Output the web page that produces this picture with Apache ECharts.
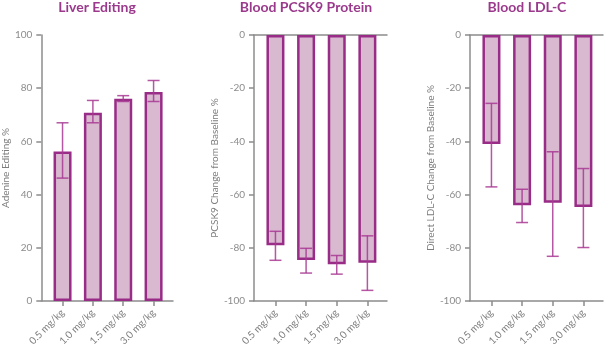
<!DOCTYPE html>
<html>
<head>
<meta charset="utf-8">
<script src="https://cdn.jsdelivr.net/npm/echarts@6/dist/echarts.min.js"></script>
<style>
  html, body { margin: 0; padding: 0; background: #fff; }
  #chart { width: 605px; height: 350px; }
</style>
</head>
<body>
<div id="chart"></div>
<script>
// dose groups
const doses = ['0.5 mg/kg', '1.0 mg/kg', '1.5 mg/kg', '3.0 mg/kg']
const titles = ['Liver Editing', 'Blood PCSK9 Protein', 'Blood LDL-C']
const yNames = ['Adenine Editing %', 'PCSK9 Change from Baseline %', 'Direct LDL-C Change from Baseline %']

// mean values
const liverEditing = [56.2, 70.8, 76.0, 78.6]
const pcsk9Change = [-79.0, -84.6, -86.2, -85.6]
const ldlChange = [-41.0, -64.0, -63.1, -64.7]

// error bar ends [low, high]
const liverErr = [[46.2, 67.0], [67.0, 75.4], [75.0, 77.2], [75.0, 82.9]]
const pcsk9Err = [[-84.7, -73.8], [-89.5, -80.2], [-89.9, -82.9], [-96.0, -75.5]]
const ldlErr = [[-57.1, -25.7], [-70.5, -58.0], [-83.2, -43.9], [-79.9, -50.2]]

const BAR_FILL = '#d8b9d0'
const BAR_EDGE = '#992c87'
const ERR_COLOR = '#a83a93'
const AXIS_GRAY = '#8c8c8c'
const TITLE_COLOR = '#9b3a8c'
const FONT = 'Lato'

const grids = [
  { left: 40, top: 35, width: 133, height: 266 },
  { left: 254, top: 35, width: 133, height: 266 },
  { left: 470, top: 35, width: 133, height: 266 },
]
const yRanges = [[0, 100], [-100, 0], [-100, 0]]
const means = [liverEditing, pcsk9Change, ldlChange]
const errs = [liverErr, pcsk9Err, ldlErr]

let myChart = echarts.init(document.getElementById('chart'))

const xAxes = []
grids.forEach((g, i) => {
  xAxes.push({
    type: 'value',
    gridIndex: i,
    position: 'bottom',
    min: -0.7,
    max: 3.64,
    splitLine: { show: false },
    axisLine: { show: true, onZero: false, lineStyle: { color: AXIS_GRAY, width: 1.5 } },
    axisTick: { show: true, length: 5, customValues: [0, 1, 2, 3], lineStyle: { color: AXIS_GRAY, width: 1.5 } },
    axisLabel: {
      customValues: [0, 1, 2, 3],
      formatter: (v) => doses[Math.round(v)],
      rotate: 45,
      margin: 10,
      color: '#7d7d7d',
      fontSize: 10,
      fontFamily: FONT,
    },
  })
})
// zero line along the top of the two change panels
;[1, 2].forEach((i) => {
  xAxes.push({
    type: 'value',
    gridIndex: i,
    position: 'top',
    min: -0.7,
    max: 3.64,
    splitLine: { show: false },
    axisLine: { show: true, onZero: false, lineStyle: { color: AXIS_GRAY, width: 1.5 } },
    axisTick: { show: false },
    axisLabel: { show: false },
  })
})

const yAxes = grids.map((g, i) => ({
  type: 'value',
  gridIndex: i,
  min: yRanges[i][0],
  max: yRanges[i][1],
  interval: 20,
  name: yNames[i],
  nameLocation: 'middle',
  nameGap: i === 0 ? 29 : 25,
  nameTextStyle: { color: '#7d7d7d', fontSize: 10, fontFamily: FONT },
  splitLine: { show: false },
  axisLine: { show: true, onZero: false, lineStyle: { color: AXIS_GRAY, width: 1.5 } },
  axisTick: { show: true, length: 5, lineStyle: { color: AXIS_GRAY, width: 1.5 } },
  axisLabel: { margin: 9, color: '#8c8c8c', fontSize: 10, fontFamily: FONT },
}))

const series = []
means.forEach((vals, i) => {
  series.push({
    type: 'bar',
    xAxisIndex: i,
    yAxisIndex: i,
    barWidth: 18,
    itemStyle: { color: BAR_FILL, borderColor: BAR_EDGE, borderWidth: 2.5 },
    data: vals.map((v, k) => [k, v]),
    z: 2,
  })
  series.push({
    type: 'custom',
    xAxisIndex: i,
    yAxisIndex: i,
    z: 3,
    data: errs[i].map((e, k) => [k, e[0], e[1]]),
    renderItem: function (params, api) {
      const lo = api.coord([api.value(0), api.value(1)])
      const hi = api.coord([api.value(0), api.value(2)])
      const half = 6
      const style = { stroke: ERR_COLOR, lineWidth: 1.5, opacity: 0.85 }
      return {
        type: 'group',
        children: [
          { type: 'line', shape: { x1: lo[0], y1: lo[1], x2: hi[0], y2: hi[1] }, style: style },
          { type: 'line', shape: { x1: lo[0] - half, y1: lo[1], x2: lo[0] + half, y2: lo[1] }, style: style },
          { type: 'line', shape: { x1: hi[0] - half, y1: hi[1], x2: hi[0] + half, y2: hi[1] }, style: style },
        ],
      }
    },
  })
})

let option = {
  animation: false,
  title: titles.map((t, i) => ({
    text: t,
    left: [97, 306, 527][i],
    textAlign: 'center',
    top: 0,
    padding: 0,
    textStyle: { color: TITLE_COLOR, fontSize: 14, fontWeight: 'bold', fontFamily: FONT },
  })),
  grid: grids,
  xAxis: xAxes,
  yAxis: yAxes,
  series: series,
}
myChart.setOption(option)
</script>
</body>
</html>
